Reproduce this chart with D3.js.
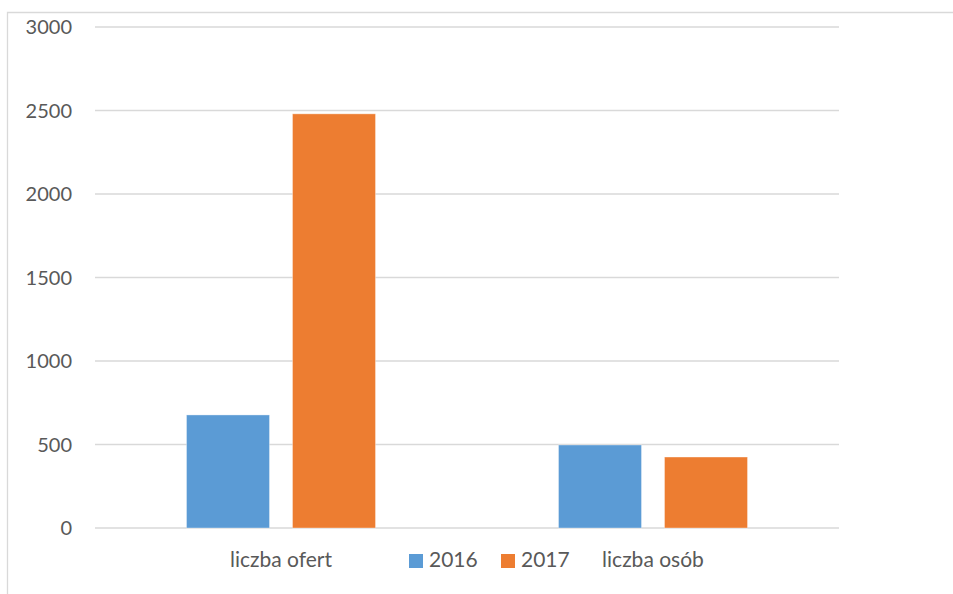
<!DOCTYPE html>
<html>
<head>
<meta charset="utf-8">
<script src="https://cdn.jsdelivr.net/npm/d3@7"></script>
<style>
  body { margin: 0; background: #fff; }
  svg { display: block; font-family: Lato, "Open Sans", sans-serif; }
</style>
</head>
<body>
<svg id="chart" width="953" height="594"></svg>
<script>
const categories = ["liczba ofert", "liczba osób"];
const seriesNames = ["2016", "2017"];
const values2016 = [677, 497];
const values2017 = [2480, 425];
const yTicks = [0, 500, 1000, 1500, 2000, 2500, 3000];
const colors = ["#5B9BD5", "#ED7D31"];

const svg = d3.select("#chart");
const margin = { left: 95, right: 114, top: 27, bottom: 66 };
const width = 953, height = 594;

// frame around the chart area (cropped at right/bottom)
svg.append("path")
  .attr("d", "M7.5,594 V12.5 H953")
  .attr("fill", "none")
  .attr("stroke", "#d9d9d9")
  .attr("stroke-width", 1.3);

const x = d3.scaleBand()
  .domain(categories)
  .range([margin.left, width - margin.right]);

const y = d3.scaleLinear()
  .domain([0, 3000])
  .range([height - margin.bottom, margin.top]);

const barW = 83, barGap = 23;
const groupW = barW * 2 + barGap;
const xInner = d3.scaleBand()
  .domain(seriesNames)
  .range([0, groupW])
  .paddingInner(barGap / (barW + barGap));

// gridlines
svg.append("g")
  .selectAll("line")
  .data(yTicks)
  .join("line")
  .attr("x1", margin.left)
  .attr("x2", width - margin.right)
  .attr("y1", d => y(d))
  .attr("y2", d => y(d))
  .attr("stroke", "#d9d9d9")
  .attr("stroke-width", 1.3);

// y tick labels
svg.append("g")
  .selectAll("text")
  .data(yTicks)
  .join("text")
  .attr("x", 72)
  .attr("y", d => y(d))
  .attr("dy", "0.36em")
  .attr("text-anchor", "end")
  .attr("font-size", 20)
  .attr("fill", "#595959")
  .text(d => d);

// bars
const series = [values2016, values2017];
series.forEach((vals, si) => {
  svg.append("g")
    .selectAll("rect")
    .data(categories)
    .join("rect")
    .attr("x", (c) => x(c) + x.bandwidth() / 2 - groupW / 2 + xInner(seriesNames[si]))
    .attr("width", xInner.bandwidth())
    .attr("y", (c, i) => y(vals[i]))
    .attr("height", (c, i) => y(0) - y(vals[i]))
    .attr("fill", colors[si])
    .attr("stroke", "rgba(255,255,255,0.35)")
    .attr("stroke-width", 1);
});

// category labels
svg.append("g")
  .selectAll("text")
  .data(categories)
  .join("text")
  .attr("x", d => x(d) + x.bandwidth() / 2)
  .attr("y", 567)
  .attr("text-anchor", "middle")
  .attr("font-size", 21)
  .attr("fill", "#595959")
  .text(d => d);

// legend
const legendX = [409, 501];
const legend = svg.append("g");
seriesNames.forEach((name, i) => {
  legend.append("rect")
    .attr("x", legendX[i])
    .attr("y", 554)
    .attr("width", 14)
    .attr("height", 14)
    .attr("fill", colors[i]);
  legend.append("text")
    .attr("x", legendX[i] + 20)
    .attr("y", 567)
    .attr("font-size", 21)
    .attr("fill", "#595959")
    .text(name);
});
</script>
</body>
</html>
